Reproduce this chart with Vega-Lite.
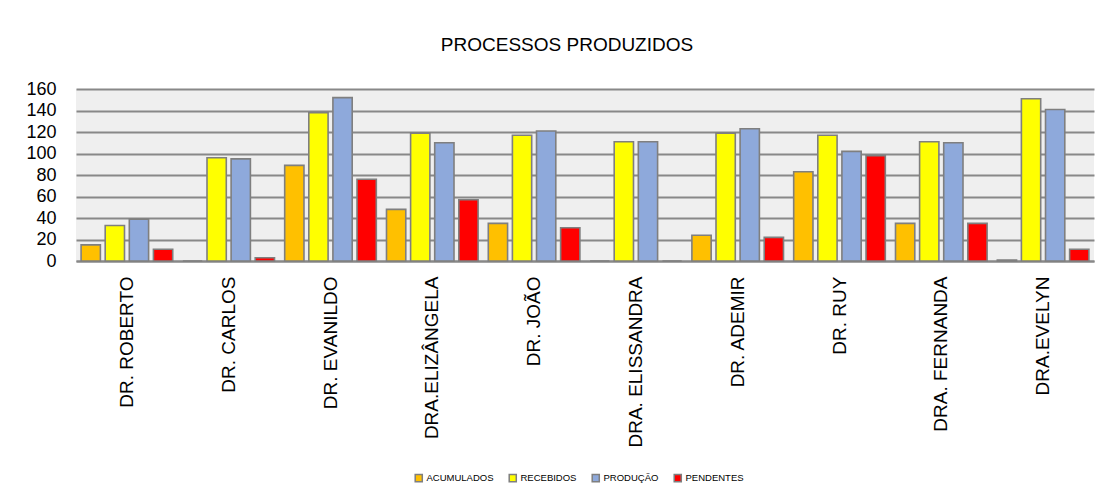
{
  "$schema": "https://vega.github.io/schema/vega-lite/v6.json",
  "autosize": {"type": "none"},
  "width": 1018,
  "height": 172,
  "padding": {"left": 76, "top": 89, "right": 16, "bottom": 241},
  "background": "white",
  "title": {
    "text": "PROCESSOS PRODUZIDOS",
    "font": "Liberation Sans, Arial, sans-serif",
    "fontSize": 19,
    "fontWeight": "normal",
    "color": "#000000",
    "anchor": "middle",
    "dx": -18,
    "offset": 25
  },
  "config": {
    "font": "Liberation Sans, Arial, sans-serif",
    "view": {"fill": "#efefef", "stroke": null}
  },
  "data": {
    "values": [
      {"medico": "DR. ROBERTO", "serie": "ACUMULADOS", "valor": 15},
      {"medico": "DR. ROBERTO", "serie": "RECEBIDOS", "valor": 33},
      {"medico": "DR. ROBERTO", "serie": "PRODUÇÃO", "valor": 39},
      {"medico": "DR. ROBERTO", "serie": "PENDENTES", "valor": 11},
      {"medico": "DR. CARLOS", "serie": "ACUMULADOS", "valor": 0},
      {"medico": "DR. CARLOS", "serie": "RECEBIDOS", "valor": 96},
      {"medico": "DR. CARLOS", "serie": "PRODUÇÃO", "valor": 95},
      {"medico": "DR. CARLOS", "serie": "PENDENTES", "valor": 3},
      {"medico": "DR. EVANILDO", "serie": "ACUMULADOS", "valor": 89},
      {"medico": "DR. EVANILDO", "serie": "RECEBIDOS", "valor": 138},
      {"medico": "DR. EVANILDO", "serie": "PRODUÇÃO", "valor": 152},
      {"medico": "DR. EVANILDO", "serie": "PENDENTES", "valor": 76},
      {"medico": "DRA.ELIZÂNGELA", "serie": "ACUMULADOS", "valor": 48},
      {"medico": "DRA.ELIZÂNGELA", "serie": "RECEBIDOS", "valor": 119},
      {"medico": "DRA.ELIZÂNGELA", "serie": "PRODUÇÃO", "valor": 110},
      {"medico": "DRA.ELIZÂNGELA", "serie": "PENDENTES", "valor": 57},
      {"medico": "DR. JOÃO", "serie": "ACUMULADOS", "valor": 35},
      {"medico": "DR. JOÃO", "serie": "RECEBIDOS", "valor": 117},
      {"medico": "DR. JOÃO", "serie": "PRODUÇÃO", "valor": 121},
      {"medico": "DR. JOÃO", "serie": "PENDENTES", "valor": 31},
      {"medico": "DRA. ELISSANDRA", "serie": "ACUMULADOS", "valor": 0},
      {"medico": "DRA. ELISSANDRA", "serie": "RECEBIDOS", "valor": 111},
      {"medico": "DRA. ELISSANDRA", "serie": "PRODUÇÃO", "valor": 111},
      {"medico": "DRA. ELISSANDRA", "serie": "PENDENTES", "valor": 0},
      {"medico": "DR. ADEMIR", "serie": "ACUMULADOS", "valor": 24},
      {"medico": "DR. ADEMIR", "serie": "RECEBIDOS", "valor": 119},
      {"medico": "DR. ADEMIR", "serie": "PRODUÇÃO", "valor": 123},
      {"medico": "DR. ADEMIR", "serie": "PENDENTES", "valor": 22},
      {"medico": "DR. RUY", "serie": "ACUMULADOS", "valor": 83},
      {"medico": "DR. RUY", "serie": "RECEBIDOS", "valor": 117},
      {"medico": "DR. RUY", "serie": "PRODUÇÃO", "valor": 102},
      {"medico": "DR. RUY", "serie": "PENDENTES", "valor": 98},
      {"medico": "DRA. FERNANDA", "serie": "ACUMULADOS", "valor": 35},
      {"medico": "DRA. FERNANDA", "serie": "RECEBIDOS", "valor": 111},
      {"medico": "DRA. FERNANDA", "serie": "PRODUÇÃO", "valor": 110},
      {"medico": "DRA. FERNANDA", "serie": "PENDENTES", "valor": 35},
      {"medico": "DRA.EVELYN", "serie": "ACUMULADOS", "valor": 1},
      {"medico": "DRA.EVELYN", "serie": "RECEBIDOS", "valor": 151},
      {"medico": "DRA.EVELYN", "serie": "PRODUÇÃO", "valor": 141},
      {"medico": "DRA.EVELYN", "serie": "PENDENTES", "valor": 11}
    ]
  },
  "mark": {"type": "bar", "stroke": "#7f7f7f", "strokeWidth": 1.6},
  "encoding": {
    "x": {
      "field": "medico",
      "type": "nominal",
      "sort": null,
      "scale": {"paddingInner": 0.1, "paddingOuter": 0.05},
      "axis": {
        "title": null,
        "labelAngle": -90,
        "labelAlign": "right",
        "labelBaseline": "middle",
        "labelFontSize": 19,
        "labelColor": "#000000",
        "labelPadding": 15,
        "labelLimit": 300,
        "ticks": false,
        "domainColor": "#888888",
        "domainWidth": 2
      }
    },
    "xOffset": {
      "field": "serie",
      "type": "nominal",
      "sort": ["ACUMULADOS", "RECEBIDOS", "PRODUÇÃO", "PENDENTES"],
      "scale": {"paddingInner": 0.2, "paddingOuter": 0}
    },
    "y": {
      "field": "valor",
      "type": "quantitative",
      "scale": {"domain": [0, 160], "nice": false},
      "axis": {
        "title": null,
        "values": [0, 20, 40, 60, 80, 100, 120, 140, 160],
        "labelFontSize": 18,
        "labelColor": "#000000",
        "labelPadding": 20,
        "ticks": false,
        "domain": false,
        "gridColor": "#888888",
        "gridWidth": 2,
        "gridOpacity": 1
      }
    },
    "color": {
      "field": "serie",
      "type": "nominal",
      "scale": {
        "domain": ["ACUMULADOS", "RECEBIDOS", "PRODUÇÃO", "PENDENTES"],
        "range": ["#FFC000", "#FFFF00", "#8EA9DB", "#FF0000"]
      },
      "legend": {
        "title": null,
        "orient": "none",
        "direction": "horizontal",
        "legendX": 338,
        "legendY": 384,
        "symbolType": "square",
        "symbolSize": 50,
        "symbolStrokeColor": "#7f7f7f",
        "symbolStrokeWidth": 1.5,
        "labelFontSize": 9.5,
        "labelColor": "#000000",
        "columnPadding": 12,
        "labelOffset": 3
      }
    }
  }
}
